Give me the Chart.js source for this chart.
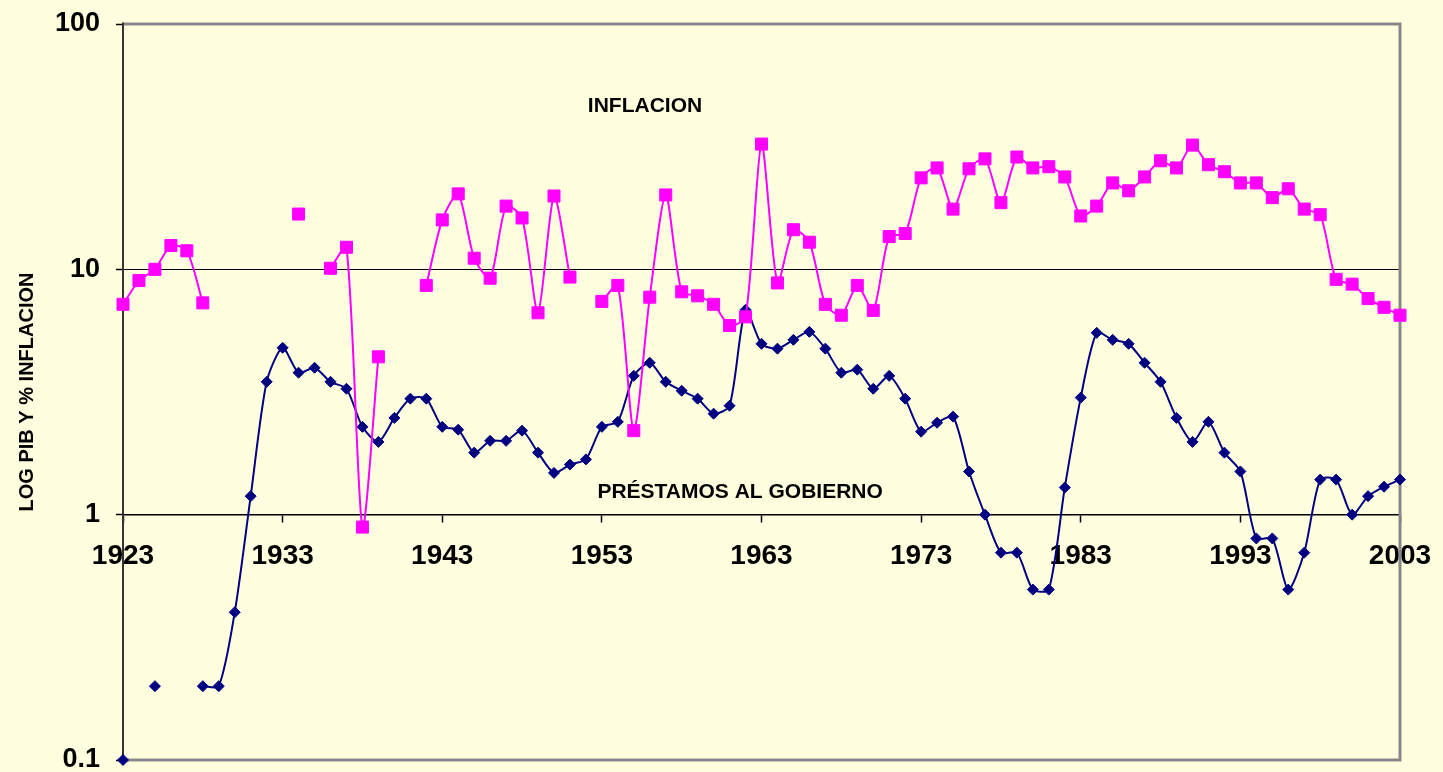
<!DOCTYPE html>
<html>
<head>
<meta charset="utf-8">
<script src="https://cdn.jsdelivr.net/npm/chart.js@4.4.1/dist/chart.umd.min.js"></script>
<style>
  html, body { margin: 0; padding: 0; background: #FFFFE0; }
  #wrap { width: 1443px; height: 772px; position: relative; }
</style>
</head>
<body>
<div id="wrap"><canvas id="c"></canvas></div>
<script>
// ---- Data (one value per year, 1923..2003; null = no data) ----
const years = [];
for (let y = 1923; y <= 2003; y++) years.push(y);

const inflacion = [
  7.2, 9.0, 10.0, 12.5, 11.9, 7.3, null, null, null, null,      // 1923-1932
  null, 16.8, null, 10.1, 12.3, 0.89, 4.4, null, null, 8.6,     // 1933-1942
  15.9, 20.3, 11.1, 9.2, 18.1, 16.2, 6.65, 19.9, 9.3, null,     // 1943-1952
  7.4, 8.6, 2.2, 7.7, 20.1, 8.1, 7.8, 7.2, 5.9, 6.4,            // 1953-1962
  32.4, 8.8, 14.5, 12.9, 7.2, 6.5, 8.6, 6.8, 13.6, 14.0,        // 1963-1972
  23.6, 25.9, 17.6, 25.7, 28.2, 18.7, 28.7, 25.9, 26.2, 23.8,   // 1973-1982
  16.5, 18.1, 22.5, 20.9, 23.8, 27.7, 25.9, 32.1, 26.7, 25.0,   // 1983-1992
  22.5, 22.5, 19.6, 21.3, 17.6, 16.7, 9.1, 8.7, 7.6, 7.0,       // 1993-2002
  6.5                                                           // 2003
];

const prestamos = [
  0.1, null, 0.2, null, null, 0.2, 0.2, 0.40, 1.19, 3.48,       // 1923-1932
  4.79, 3.79, 3.97, 3.48, 3.26, 2.28, 1.98, 2.48, 2.97, 2.97,   // 1933-1942
  2.28, 2.22, 1.79, 2.0, 2.0, 2.2, 1.79, 1.48, 1.60, 1.68,      // 1943-1952
  2.28, 2.39, 3.68, 4.16, 3.48, 3.2, 2.97, 2.58, 2.78, 6.84,    // 1953-1962
  4.97, 4.75, 5.16, 5.56, 4.75, 3.79, 3.90, 3.26, 3.68, 2.97,   // 1963-1972
  2.18, 2.37, 2.51, 1.50, 1.0, 0.70, 0.70, 0.495, 0.495, 1.29,  // 1973-1982
  3.0, 5.51, 5.16, 4.97, 4.16, 3.48, 2.48, 1.98, 2.39, 1.79,    // 1983-1992
  1.50, 0.80, 0.80, 0.495, 0.70, 1.39, 1.39, 1.0, 1.19, 1.30,   // 1993-2002
  1.39                                                          // 2003
];

const xTickLabels = [1923, 1933, 1943, 1953, 1963, 1973, 1983, 1993, 2003];
const yTickValues = [0.1, 1, 10, 100];
const yTitle = 'LOG PIB Y % INFLACION';

const seriesLabels = [
  { text: 'INFLACION', x: 1955.7, y: 46.8 },
  { text: 'PRÉSTAMOS AL GOBIERNO', x: 1961.66, y: 1.25 }
];

const FONT = '"Liberation Sans", Arial, sans-serif';

const toPoints = (vals) => years.map((yr, i) => ({ x: yr, y: vals[i] }));

const framePlugin = {
  id: 'frame',
  beforeDatasetsDraw(chart) {
    const { ctx, chartArea: a } = chart;
    ctx.save();
    ctx.strokeStyle = '#888888';
    ctx.lineWidth = 3;
    ctx.beginPath();
    ctx.moveTo(a.left, a.top);
    ctx.lineTo(a.right, a.top);
    ctx.lineTo(a.right, a.bottom);
    ctx.lineTo(a.left, a.bottom);
    ctx.stroke();
    ctx.strokeStyle = '#333333';
    ctx.lineWidth = 2;
    ctx.beginPath();
    ctx.moveTo(a.left, a.top - 1.5);
    ctx.lineTo(a.left, a.bottom + 1.5);
    ctx.stroke();
    ctx.restore();
  },
  afterDraw(chart) {
    const { ctx } = chart;
    const xs = chart.scales.x, ys = chart.scales.y;
    ctx.save();
    ctx.fillStyle = '#000';
    ctx.font = 'bold 21px ' + FONT;
    ctx.textAlign = 'center';
    ctx.textBaseline = 'middle';
    seriesLabels.forEach(l => {
      ctx.fillText(l.text, xs.getPixelForValue(l.x), ys.getPixelForValue(l.y) + 1);
    });
    ctx.restore();
  }
};

new Chart(document.getElementById('c'), {
  type: 'line',
  data: {
    datasets: [
      {
        label: 'INFLACION',
        data: toPoints(inflacion),
        borderColor: '#FF00FF',
        backgroundColor: '#FF00FF',
        borderWidth: 2,
        pointStyle: 'rect',
        pointRadius: 8.5,
        pointBorderWidth: 1,
        pointHoverRadius: 8.5,
        tension: 0.25,
        spanGaps: false,
        clip: false
      },
      {
        label: 'PRÉSTAMOS AL GOBIERNO',
        data: toPoints(prestamos),
        borderColor: '#000080',
        backgroundColor: '#000080',
        borderWidth: 2,
        pointStyle: 'rectRot',
        pointRadius: 5.5,
        pointBorderWidth: 1,
        pointHoverRadius: 5.5,
        tension: 0.25,
        spanGaps: false,
        clip: false
      }
    ]
  },
  options: {
    responsive: true,
    maintainAspectRatio: false,
    animation: false,
    events: [],
    layout: { padding: { left: 0, top: 24, right: 43, bottom: 12 } },
    plugins: {
      legend: { display: false },
      tooltip: { enabled: false },
      title: { display: false }
    },
    scales: {
      x: {
        type: 'linear',
        min: 1923,
        max: 2003,
        position: { y: 1 },
        afterBuildTicks: (s) => { s.ticks = xTickLabels.map(v => ({ value: v })); },
        afterFit: (s) => { s.paddingLeft = 0; s.paddingRight = 0; },
        ticks: {
          autoSkip: false,
          maxRotation: 0,
          padding: 18,
          color: '#000',
          font: { family: FONT, size: 28, weight: 'bold' },
          callback: (v) => String(v)
        },
        grid: {
          display: true,
          drawOnChartArea: false,
          drawTicks: true,
          tickLength: 7,
          tickColor: '#000',
          tickWidth: 1.5
        },
        border: { display: true, color: '#000', width: 1.5 }
      },
      y: {
        type: 'logarithmic',
        min: 0.1,
        max: 100,
        position: 'left',
        afterBuildTicks: (s) => { s.ticks = yTickValues.map(v => ({ value: v })); },
        afterFit: (s) => { s.width = 123; s.paddingTop = 0; s.paddingBottom = 0; },
        ticks: {
          padding: 16,
          color: '#000',
          font: { family: FONT, size: 27, weight: 'bold' },
          callback: (v) => String(v)
        },
        grid: {
          color: (c) => (c.tick && (c.tick.value === 1 || c.tick.value === 10)) ? '#000' : 'rgba(0,0,0,0)',
          lineWidth: 1,
          drawTicks: true,
          tickLength: 7,
          tickColor: '#000',
          tickWidth: 1.5
        },
        border: { display: true, color: '#333', width: 2 },
        title: {
          display: true,
          text: yTitle,
          color: '#000',
          font: { family: FONT, size: 20, weight: 'bold' },
          padding: { top: 15, bottom: 0 }
        }
      }
    }
  },
  plugins: [framePlugin]
});
</script>
</body>
</html>
